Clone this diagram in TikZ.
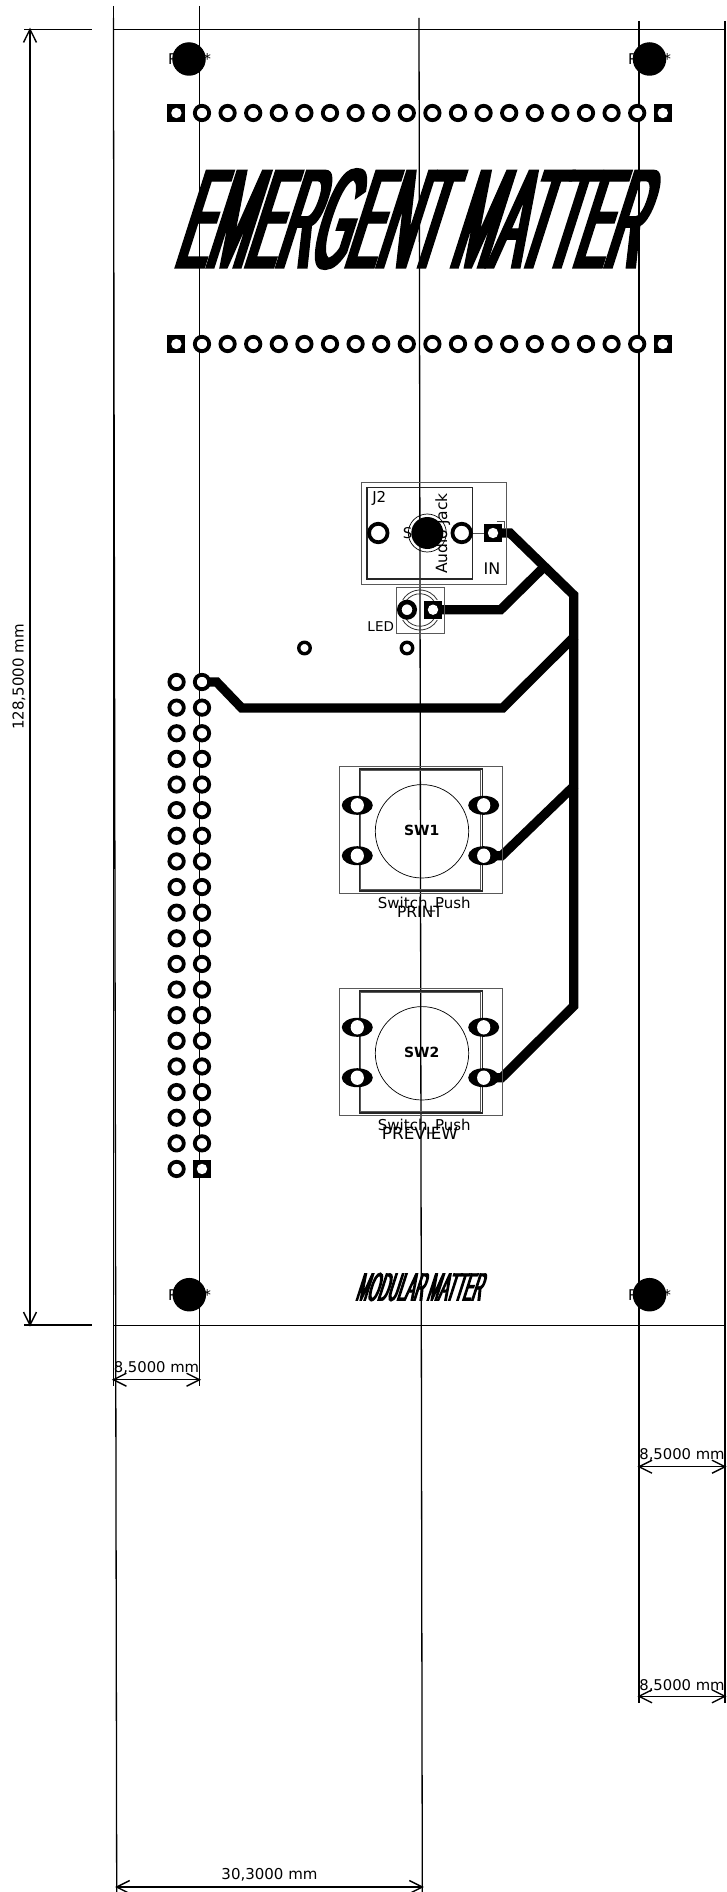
\documentclass[tikz,border=0pt]{standalone}
\usepackage{fontspec}
\setmainfont{DejaVu Sans}
\newfontfamily\logofont[FakeStretch=0.0815,FakeBold=0.95]{Liberation Sans}
\newfontfamily\logofontb[FakeStretch=0.084,FakeBold=0.95]{Liberation Sans}
\usetikzlibrary{shapes.geometric}
\tikzset{
  x=1pt,y=-1pt,
  dimline/.style={line width=1.3pt,black},
  hairline/.style={line width=0.9pt,black},
  thinbox/.style={line width=0.9pt,black!65},
  darkbox/.style={line width=1.2pt,black!85},
  trace/.style={line width=9.3pt,black,line join=miter,line cap=butt},
  arr/.style={line width=1.4pt,black},
  ptxt/.style={inner sep=0pt,font=\fontsize{14.8}{15}\selectfont},
  logostyle/.style={inner sep=0pt,transform shape},
  roundpad/.style={circle,draw=black,fill=white,line width=3.8pt,minimum size=14.4pt,inner sep=0pt},
  squarepad/.style={rectangle,fill=black,minimum size=18pt,inner sep=0pt,path picture={\fill[white] (path picture bounding box.center) circle[radius=5.2pt];}},
  hole/.style={circle,fill=black,minimum size=33.5pt,inner sep=0pt},
  ovalpad/.style={ellipse,fill=black,minimum width=31pt,minimum height=19pt,inner sep=0pt,path picture={\fill[white] (path picture bounding box.center) ellipse[x radius=6.6pt,y radius=7.2pt];}}
}
\begin{document}
\begin{tikzpicture}
\useasboundingbox (0,0) rectangle (726,1892);
\fill[white] (0,0) rectangle (726,1892);
% dimension lines
\coordinate (vA1) at (113.4,6); \coordinate (vA2) at (113.4,1386);
\coordinate (vB1) at (199.6,6); \coordinate (vB2) at (199.6,1386);
\coordinate (vC1) at (113.4,18); \coordinate (vC2) at (116.7,1892);
\coordinate (vD1) at (419,18); \coordinate (vD2) at (422.3,1892);
\coordinate (vE1) at (639,21); \coordinate (vE2) at (639,1703);
\coordinate (vF1) at (725,21); \coordinate (vF2) at (725,1703);
\draw[dimline] (vA1) -- (vA2);
\draw[dimline] (vB1) -- (vB2);
\draw[dimline] (vC1) -- (vC2);
\draw[dimline] (vD1) -- (vD2);
\draw[dimline] (vE1) -- (vE2);
\draw[dimline] (vF1) -- (vF2);
\coordinate (hA1) at (113.4,29.3); \coordinate (hA2) at (726,29.3);
\coordinate (hB1) at (113.4,1325); \coordinate (hB2) at (726,1325);
\draw[hairline] (hA1) -- (hA2);
\draw[hairline] (hB1) -- (hB2);
\coordinate (tk1) at (24,29.3); \coordinate (tk2) at (91.7,29.3);
\coordinate (tk3) at (24,1325); \coordinate (tk4) at (91.7,1325);
\draw[dimline] (tk1) -- (tk2);
\draw[dimline] (tk3) -- (tk4);
\newcommand{\harrow}[3]{%
  \draw[arr] (#1,#3) -- (#2,#3);
  \draw[arr] (#1+13,#3-6.5) -- (#1,#3) -- (#1+13,#3+6.5);
  \draw[arr] (#2-13,#3-6.5) -- (#2,#3) -- (#2-13,#3+6.5);}
\harrow{113.4}{199.6}{1379.7}
\harrow{639}{725}{1466.7}
\harrow{639}{725}{1696.3}
\harrow{116.7}{422.3}{1887}
\draw[arr] (30,29.3) -- (30,1325);
\draw[arr] (23.5,42.5) -- (30,29.3) -- (36.5,42.5);
\draw[arr] (23.5,1312) -- (30,1325) -- (36.5,1312);
% coordinates of pads used by traces
\coordinate (jackc) at (493,533);
\coordinate (ledc2) at (433,609.7);
\coordinate (sw1d) at (483.7,855.7);
\coordinate (sw2d) at (483.7,1077.7);
\coordinate (pin1) at (202,682);
% traces
\coordinate (t1a) at (510,533);
\coordinate (t1b) at (573.7,595);
\coordinate (t1c) at (573.7,1006);
\coordinate (t1d) at (501.7,1077.7);
\draw[trace] (jackc) -- (t1a) -- (t1b) -- (t1c) -- (t1d) -- (sw2d);
\coordinate (t2a) at (544,567);
\coordinate (t2b) at (500.7,609.7);
\draw[trace] (t2a) -- (t2b) -- (ledc2);
\coordinate (t3a) at (575,636);
\coordinate (t3b) at (502.7,708);
\coordinate (t3c) at (241.7,708);
\coordinate (t3d) at (216.7,682);
\draw[trace] (t3a) -- (t3b) -- (t3c) -- (t3d) -- (pin1);
\coordinate (t4a) at (575,785);
\coordinate (t4b) at (501.7,855.7);
\draw[trace] (t4a) -- (t4b) -- (sw1d);
% header rows
\foreach \i in {0,...,19}{
  \pgfmathsetmacro{\xx}{176.4+25.6*\i}
  \ifnum\i=0 \node[squarepad] (ta\i) at (\xx,113) {}; \node[squarepad] (tb\i) at (\xx,344) {};
  \else\ifnum\i=19 \node[squarepad] (ta\i) at (\xx,113) {}; \node[squarepad] (tb\i) at (\xx,344) {};
  \else \node[roundpad] (ta\i) at (\xx,113) {}; \node[roundpad] (tb\i) at (\xx,344) {};
  \fi\fi
}
% left header
\foreach \i in {0,...,19}{
  \pgfmathsetmacro{\yy}{682+25.63*\i}
  \node[roundpad] (la\i) at (176.6,\yy) {};
  \ifnum\i=19 \node[squarepad] (lb\i) at (202,\yy) {};
  \else \node[roundpad] (lb\i) at (202,\yy) {}; \fi
}
% reference texts under mounting holes
\node[ptxt] (r1) at (189.5,59) {REF**};
\node[ptxt] (r2) at (649.5,59) {REF**};
\node[ptxt] (r3) at (189.5,1294.5) {REF**};
\node[ptxt] (r4) at (649.5,1294.5) {REF**};
\node[hole] (h1) at (189,59) {};
\node[hole] (h2) at (649.5,59) {};
\node[hole] (h3) at (189.3,1294.7) {};
\node[hole] (h4) at (649.5,1294.7) {};
% logos
\node[logostyle,xslant=0.32,xscale=4,font=\logofont\fontsize{142}{142}\selectfont] (logo1) at (420,219) {EMERGENT MATTER};
\node[logostyle,xslant=0.32,xscale=4,font=\logofontb\fontsize{40}{40}\selectfont] (logo2) at (422,1287) {MODULAR MATTER};
% jack
\draw[thinbox] (361.7,482.7) rectangle (506.7,584);
\draw[darkbox] (367,487.7) rectangle (472.7,579);
\coordinate (jk1) at (470,533);
\node[squarepad] (jackp) at (jackc) {};
\draw[line width=0.6pt,black!70] (jk1) -- (jackp);
\draw[line width=0.7pt,black!70] (496.7,521.3) -- (504,521.3) -- (504,528.3);
\node[roundpad,minimum size=18.5pt] (jl) at (378.3,533) {};
\node[roundpad,minimum size=18.5pt] (jr) at (461.7,533) {};
\node[ptxt,font=\fontsize{15}{15}\selectfont] (j2) at (379.3,498.5) {J2};
\node[ptxt,rotate=90,font=\fontsize{15.5}{16}\selectfont] (jk) at (442.7,533.5) {Audio Jack};
\node[ptxt] (js) at (407.5,533) {S};
\draw[line width=0.7pt,black] (427.3,533) circle[radius=19];
\node[circle,fill=black,minimum size=32pt,inner sep=0pt] (jh) at (427.3,533) {};
\node[ptxt,font=\fontsize{16}{16}\selectfont] (in) at (492,569) {IN};
% LED
\draw[thinbox] (396,587.3) rectangle (444.7,633.3);
\draw[line width=0.8pt,black!80] (402.7,600) arc[start angle=-150,end angle=-30,radius=20] (406,601) arc[start angle=-145,end angle=-35,radius=17];
\draw[line width=0.8pt,black!80] (402.7,620) arc[start angle=150,end angle=30,radius=20] (406,619) arc[start angle=145,end angle=35,radius=17];
\node[roundpad,minimum size=15.4pt,line width=4.6pt] (ledc) at (407,609.7) {};
\node[squarepad] (leds) at (ledc2) {};
\node[ptxt,font=\fontsize{13.5}{14}\selectfont] (ledt) at (380.7,626.7) {LED};
\node[roundpad,minimum size=11.5pt,line width=3.4pt] (p1) at (304.5,648) {};
\node[roundpad,minimum size=11.5pt,line width=3.4pt] (p2) at (407,648) {};
% switches
\foreach \n/\yo/\lab/\tl/\tsz in {1/0/SW1/PRINT/15.5,2/222/SW2/PREVIEW/16.8}{
  \begin{scope}[yshift=-\yo pt]
  \draw[thinbox] (339.7,766.7) rectangle (502,893.3);
  \draw[darkbox] (359.3,769) rectangle (482.3,891);
  \draw[thinbox] (360.8,770.5) rectangle (480.8,889.5);
  \draw[line width=0.7pt,black] (422,831.3) circle[radius=46.7];
  \node[ovalpad] (s\n a) at (357.3,805.3) {};
  \node[ovalpad] (s\n b) at (483.7,805.3) {};
  \node[ovalpad] (s\n c) at (357.3,855.7) {};
  \node[ovalpad] (s\n d) at (483.7,855.7) {};
  \node[ptxt,font=\bfseries\fontsize{14}{14}\selectfont] (s\n t) at (421.7,830.7) {\lab};
  \node[ptxt,font=\fontsize{15}{15}\selectfont] (s\n u) at (424.3,905) {Switch\_Push};
  \node[ptxt,font=\fontsize{\tsz}{16}\selectfont] (s\n v) at (420,911.7) {\tl};
  \end{scope}
}
% dimension labels
\node[ptxt] (d1) at (156.5,1368) {8,5000 mm};
\node[ptxt] (d2) at (682,1455) {8,5000 mm};
\node[ptxt] (d3) at (682,1685.7) {8,5000 mm};
\node[ptxt,font=\fontsize{15}{15}\selectfont] (d4) at (269.5,1875) {30,3000 mm};
\node[ptxt,rotate=90,font=\fontsize{15}{15}\selectfont] (d5) at (19,677) {128,5000 mm};
\end{tikzpicture}
\end{document}
